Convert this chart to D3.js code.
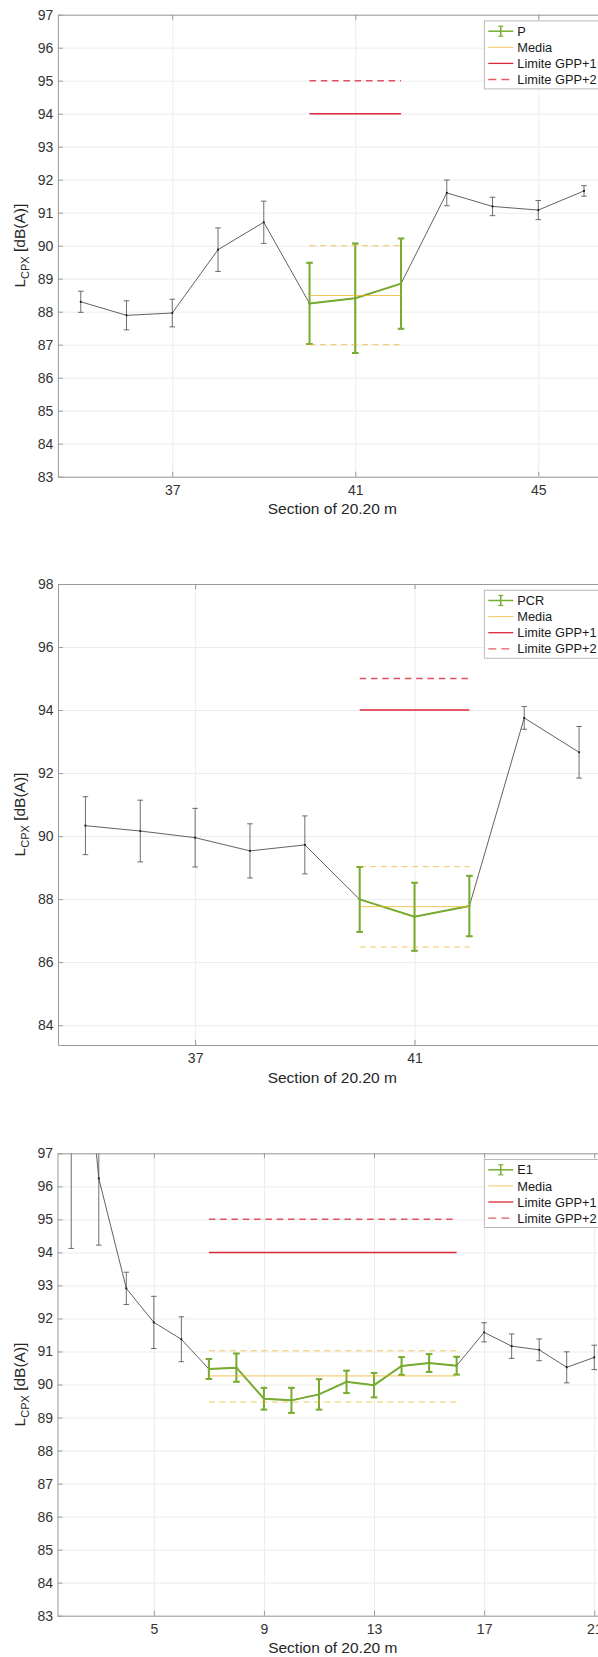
<!DOCTYPE html>
<html><head><meta charset="utf-8">
<script src="https://cdn.jsdelivr.net/npm/d3@7"></script>
<style>
body{margin:0;background:#fff}
svg{display:block}
text{font-family:"Liberation Sans",Arial,Helvetica,sans-serif}
</style>
</head><body>
<svg id="c" width="598" height="1657"></svg>
<script>
// ---------- Chart 1 : P ----------
const pSections = [35,36,37,38,39,40,41,42,43,44,45,46];
const pMean     = [88.30,87.89,87.96,89.88,90.71,88.25,88.41,88.85,91.60,91.19,91.08,91.66];
const pErr      = [0.32,0.44,0.42,0.66,0.64,1.23,1.66,1.37,0.39,0.28,0.29,0.16];
const pGreen    = [40,42];
const pMedia    = [88.49, 90.0, 87.0];   // media, upper, lower
const pLimits   = [94, 95];
const pXTicks   = [37,41,45];
const pYTicks   = [83,84,85,86,87,88,89,90,91,92,93,94,95,96,97];
const pName     = "P";

// ---------- Chart 2 : PCR ----------
const pcrSections = [35,36,37,38,39,40,41,42,43,44];
const pcrMean     = [90.33,90.16,89.95,89.53,89.72,87.99,87.44,87.78,93.75,92.66];
const pcrErr      = [0.92,0.98,0.93,0.86,0.92,1.03,1.08,0.96,0.36,0.82];
const pcrGreen    = [40,42];
const pcrMedia    = [87.76, 89.03, 86.48];
const pcrLimits   = [94, 95];
const pcrXTicks   = [37,41];
const pcrYTicks   = [84,86,88,90,92,94,96,98];
const pcrName     = "PCR";

// ---------- Chart 3 : E1 ----------
const e1Sections = [2,3,4,5,6,7,8,9,10,11,12,13,14,15,16,17,18,19,20,21];
const e1Mean     = [105.0,96.24,92.91,91.88,91.37,90.47,90.51,89.57,89.52,89.70,90.08,89.98,90.56,90.65,90.57,91.58,91.16,91.05,90.52,90.82];
const e1Err      = [10.88,2.02,0.49,0.79,0.68,0.30,0.43,0.33,0.38,0.46,0.34,0.37,0.27,0.27,0.27,0.29,0.37,0.33,0.47,0.37];
const e1Green    = [7,16];
const e1Media    = [90.26, 91.02, 89.47];
const e1Limits   = [94, 95];
const e1XTicks   = [5,9,13,17,21];
const e1YTicks   = [83,84,85,86,87,88,89,90,91,92,93,94,95,96,97];
const e1Name     = "E1";

const legendLabels = ["Media","Limite GPP+1","Limite GPP+2"];

const GREEN = "#77AC30", YELLOW = "#EDB120", RED = "#D9283A", DARK = "#3a3a3a";
const svg = d3.select("#c");

function drawChart(cfg){
  const g = svg.append("g");
  const x = d3.scaleLinear().domain(cfg.xlim).range([cfg.left, cfg.right]);
  const y = d3.scaleLinear().domain(cfg.ylim).range([cfg.bottom, cfg.top]);
  const W = cfg.right - cfg.left, H = cfg.bottom - cfg.top;

  const clipId = "clip" + cfg.id;
  svg.append("clipPath").attr("id", clipId).append("rect")
    .attr("x", cfg.left).attr("y", cfg.top).attr("width", W).attr("height", H);

  // grid
  const gy = g.append("g").attr("transform", `translate(${cfg.left},0)`)
    .call(d3.axisLeft(y).tickValues(cfg.yTicks).tickSize(-W).tickFormat(""));
  gy.select(".domain").remove();
  gy.selectAll("line").attr("stroke", "#ececec");
  const gx = g.append("g").attr("transform", `translate(0,${cfg.bottom})`)
    .call(d3.axisBottom(x).tickValues(cfg.xTicks).tickSize(-H).tickFormat(""));
  gx.select(".domain").remove();
  gx.selectAll("line").attr("stroke", "#ececec");

  const plot = g.append("g").attr("clip-path", `url(#${clipId})`);
  const data = cfg.sections.map((s,i)=>({s, m:cfg.mean[i], e:cfg.err[i]}));
  const green = data.filter(d => d.s >= cfg.green[0] && d.s <= cfg.green[1]);
  const gx0 = x(cfg.green[0]), gx1 = x(cfg.green[1]);

  // black series
  const line = d3.line().x(d=>x(d.s)).y(d=>y(d.m));
  plot.append("path").datum(data).attr("d", line).attr("fill","none")
    .attr("stroke", DARK).attr("stroke-width", 0.8);
  const eb = plot.append("g").attr("stroke", "#4a4a4a").attr("stroke-width", 0.8);
  eb.selectAll("line.v").data(data).join("line").attr("class","v")
    .attr("x1", d=>x(d.s)).attr("x2", d=>x(d.s)).attr("y1", d=>y(d.m-d.e)).attr("y2", d=>y(d.m+d.e));
  eb.selectAll("line.t").data(data).join("line").attr("class","t")
    .attr("x1", d=>x(d.s)-2.8).attr("x2", d=>x(d.s)+2.8).attr("y1", d=>y(d.m+d.e)).attr("y2", d=>y(d.m+d.e));
  eb.selectAll("line.b").data(data).join("line").attr("class","b")
    .attr("x1", d=>x(d.s)-2.8).attr("x2", d=>x(d.s)+2.8).attr("y1", d=>y(d.m-d.e)).attr("y2", d=>y(d.m-d.e));
  plot.append("g").selectAll("circle").data(data).join("circle")
    .attr("cx", d=>x(d.s)).attr("cy", d=>y(d.m)).attr("r", 1.1).attr("fill", "#222");

  // green series
  plot.append("path").datum(green).attr("d", line).attr("fill","none")
    .attr("stroke", GREEN).attr("stroke-width", 2);
  const ge = plot.append("g").attr("stroke", GREEN).attr("stroke-width", 2);
  ge.selectAll("line.v").data(green).join("line").attr("class","v")
    .attr("x1", d=>x(d.s)).attr("x2", d=>x(d.s)).attr("y1", d=>y(d.m-d.e)).attr("y2", d=>y(d.m+d.e));
  ge.selectAll("line.t").data(green).join("line").attr("class","t")
    .attr("x1", d=>x(d.s)-3.3).attr("x2", d=>x(d.s)+3.3).attr("y1", d=>y(d.m+d.e)).attr("y2", d=>y(d.m+d.e));
  ge.selectAll("line.b").data(green).join("line").attr("class","b")
    .attr("x1", d=>x(d.s)-3.3).attr("x2", d=>x(d.s)+3.3).attr("y1", d=>y(d.m-d.e)).attr("y2", d=>y(d.m-d.e));

  // media lines
  plot.append("line").attr("x1", gx0).attr("x2", gx1).attr("y1", y(cfg.media[0])).attr("y2", y(cfg.media[0]))
    .attr("stroke", YELLOW).attr("stroke-width", 1).attr("opacity", 0.75);
  [cfg.media[1], cfg.media[2]].forEach(v => {
    plot.append("line").attr("x1", gx0).attr("x2", gx1).attr("y1", y(v)).attr("y2", y(v))
      .attr("stroke", YELLOW).attr("stroke-width", 1).attr("stroke-dasharray", "6,4.5").attr("opacity", 0.72);
  });
  // limits
  plot.append("line").attr("x1", gx0).attr("x2", gx1).attr("y1", y(cfg.limits[0])).attr("y2", y(cfg.limits[0]))
    .attr("stroke", RED).attr("stroke-width", 1.5);
  plot.append("line").attr("x1", gx0).attr("x2", gx1).attr("y1", y(cfg.limits[1])).attr("y2", y(cfg.limits[1]))
    .attr("stroke", RED).attr("stroke-width", 1.5).attr("stroke-dasharray", "6.5,4.8").attr("opacity", 0.8);

  // axes
  const axL = g.append("g").attr("transform", `translate(${cfg.left},0)`)
    .call(d3.axisLeft(y).tickValues(cfg.yTicks).tickSizeInner(-5).tickSizeOuter(0).tickPadding(4.5));
  const axB = g.append("g").attr("transform", `translate(0,${cfg.bottom})`)
    .call(d3.axisBottom(x).tickValues(cfg.xTicks).tickSizeInner(-5).tickSizeOuter(0).tickPadding(8.5));
  const axT = g.append("g").attr("transform", `translate(0,${cfg.top})`)
    .call(d3.axisTop(x).tickValues(cfg.xTicks).tickSizeInner(-5).tickSizeOuter(0).tickFormat(""));
  [axL, axB, axT].forEach(a => {
    a.select(".domain").attr("stroke", "#9a9a9a").attr("stroke-width", 1);
    a.selectAll(".tick line").attr("stroke", "#9a9a9a");
    a.selectAll("text").attr("fill", "#333").attr("font-size", 14)
      .attr("font-family", '"Liberation Sans",Arial,sans-serif');
  });

  // x label
  g.append("text").attr("x", (cfg.left + cfg.right)/2).attr("y", cfg.bottom + cfg.xlabOff)
    .attr("text-anchor","middle").attr("font-size", 15.5).attr("fill","#262626")
    .text("Section of 20.20 m");
  // y label
  const yl = g.append("text")
    .attr("transform", `translate(25,${(cfg.top+cfg.bottom)/2}) rotate(-90)`)
    .attr("text-anchor","middle").attr("font-size", 15.5).attr("fill","#262626");
  yl.append("tspan").text("L");
  yl.append("tspan").attr("font-size", 11).attr("dy", 4).text("CPX");
  yl.append("tspan").attr("dy", -4).text(" [dB(A)]");

  // legend
  const lg = g.append("g").attr("transform", `translate(484.3,${cfg.top + 6.2})`);
  lg.append("rect").attr("x", 0).attr("y", 0).attr("width", 120).attr("height", 68)
    .attr("fill", "#fff").attr("stroke", "#a8a8a8").attr("stroke-width", 0.8);
  const rows = [cfg.name].concat(legendLabels);
  const ry = i => 10.3 + i*16.1;
  lg.selectAll("text").data(rows).join("text")
    .attr("x", 33).attr("y", (d,i)=>ry(i)).attr("dy", "0.36em")
    .attr("font-size", 12.8).attr("fill", "#1a1a1a").text(d=>d);
  // sample symbols
  lg.append("line").attr("x1", 4).attr("x2", 29).attr("y1", ry(0)).attr("y2", ry(0)).attr("stroke", GREEN).attr("stroke-width", 1.5);
  lg.append("line").attr("x1", 16.5).attr("x2", 16.5).attr("y1", ry(0)-5).attr("y2", ry(0)+5).attr("stroke", GREEN).attr("stroke-width", 1.5);
  [-5,5].forEach(o => lg.append("line").attr("x1", 14).attr("x2", 19).attr("y1", ry(0)+o).attr("y2", ry(0)+o).attr("stroke", GREEN).attr("stroke-width", 1.2));
  lg.append("line").attr("x1", 4).attr("x2", 29).attr("y1", ry(1)).attr("y2", ry(1)).attr("stroke", YELLOW).attr("stroke-width", 1).attr("opacity", 0.7);
  lg.append("line").attr("x1", 4).attr("x2", 29).attr("y1", ry(2)).attr("y2", ry(2)).attr("stroke", RED).attr("stroke-width", 1.3);
  lg.append("line").attr("x1", 4).attr("x2", 29).attr("y1", ry(3)).attr("y2", ry(3)).attr("stroke", RED).attr("stroke-width", 1.3).attr("stroke-dasharray", "8,5").attr("opacity", 0.75);
}

drawChart({id:1, name:pName, sections:pSections, mean:pMean, err:pErr, green:pGreen, media:pMedia, limits:pLimits,
  xTicks:pXTicks, yTicks:pYTicks, xlim:[34.5,46.5], ylim:[83,97], left:57.9, right:606.9, top:14.7, bottom:476.7, xlabOff:37});
drawChart({id:2, name:pcrName, sections:pcrSections, mean:pcrMean, err:pcrErr, green:pcrGreen, media:pcrMedia, limits:pcrLimits,
  xTicks:pcrXTicks, yTicks:pcrYTicks, xlim:[34.5,44.5], ylim:[83.37,98], left:58.0, right:606.5, top:584, bottom:1045, xlabOff:38});
drawChart({id:3, name:e1Name, sections:e1Sections, mean:e1Mean, err:e1Err, green:e1Green, media:e1Media, limits:e1Limits,
  xTicks:e1XTicks, yTicks:e1YTicks, xlim:[1.5,21.5], ylim:[83,97], left:57.5, right:608.0, top:1153.3, bottom:1615.7, xlabOff:37.5});
</script>
</body></html>
